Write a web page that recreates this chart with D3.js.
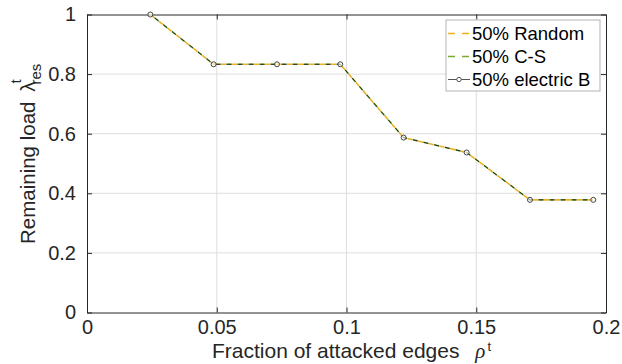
<!DOCTYPE html>
<html><head><meta charset="utf-8">
<script src="https://cdn.jsdelivr.net/npm/d3@7"></script>
<style>
html,body{margin:0;padding:0;background:#fff;}
svg{display:block;font-family:"Liberation Sans",Arial,Helvetica,sans-serif;}
</style></head>
<body>
<svg id="c" width="622" height="364"></svg>
<script>
// ---- data ----
const rho = [0.0244, 0.0488, 0.0732, 0.0976, 0.1220, 0.1463, 0.1707, 0.1951];
const randomLoad   = [1, 0.833, 0.833, 0.833, 0.587, 0.537, 0.378, 0.378];
const csLoad       = [1, 0.833, 0.833, 0.833, 0.587, 0.537, 0.378, 0.378];
const electricLoad = [1, 0.833, 0.833, 0.833, 0.587, 0.537, 0.378, 0.378];
const seriesNames = ["50% Random", "50% C-S", "50% electric B"];
const xTicks = [0, 0.05, 0.1, 0.15, 0.2];
const xTickLabels = ["0", "0.05", "0.1", "0.15", "0.2"];
const yTicks = [0, 0.2, 0.4, 0.6, 0.8, 1];
const yTickLabels = ["0", "0.2", "0.4", "0.6", "0.8", "1"];

const svg = d3.select("#c");
const L = 87, R = 606, T = 14.5, B = 312.5;
const x = d3.scaleLinear().domain([0, 0.2]).range([L, R]);
const y = d3.scaleLinear().domain([0, 1]).range([B, T]);

// grid
const g = svg.append("g");
g.selectAll(".gx").data(xTicks.slice(1, -1)).enter().append("line")
  .attr("x1", d => x(d)).attr("x2", d => x(d)).attr("y1", T).attr("y2", B)
  .attr("stroke", "#dedede").attr("stroke-width", 1);
g.selectAll(".gy").data(yTicks.slice(1, -1)).enter().append("line")
  .attr("y1", d => y(d)).attr("y2", d => y(d)).attr("x1", L).attr("x2", R)
  .attr("stroke", "#dedede").attr("stroke-width", 1);

// axes with inward ticks
const axColor = "#262626";
const fmtX = (d, i) => xTickLabels[i];
const fmtY = (d, i) => yTickLabels[i];
const axB = svg.append("g").attr("transform", `translate(0,${B})`)
  .call(d3.axisBottom(x).tickValues(xTicks).tickFormat(fmtX).tickSizeInner(-5).tickSizeOuter(0).tickPadding(7));
const axT = svg.append("g").attr("transform", `translate(0,${T})`)
  .call(d3.axisTop(x).tickValues(xTicks).tickFormat("").tickSizeInner(-5).tickSizeOuter(0));
const axL = svg.append("g").attr("transform", `translate(${L},0)`)
  .call(d3.axisLeft(y).tickValues(yTicks).tickFormat(fmtY).tickSizeInner(-5).tickSizeOuter(0).tickPadding(11));
const axR = svg.append("g").attr("transform", `translate(${R},0)`)
  .call(d3.axisRight(y).tickValues(yTicks).tickFormat("").tickSizeInner(-5).tickSizeOuter(0));
[axB, axT, axL, axR].forEach(a => {
  a.select(".domain").attr("stroke", axColor).attr("stroke-width", 1);
  a.selectAll(".tick line").attr("stroke", axColor);
  a.selectAll("text").attr("fill", "#262626").style("font-size", "20px")
    .style("font-family", "'Liberation Sans',Arial,sans-serif");
});
axB.selectAll(".tick text").attr("dy", "0.71em");

// lines
const line = d3.line().x((d, i) => x(rho[i])).y(d => y(d));
const pg = svg.append("g");
pg.append("path").datum(randomLoad).attr("d", line).attr("fill", "none")
  .attr("stroke", "#EDB120").attr("stroke-width", 1.6).attr("stroke-dasharray", "5,6");
pg.append("path").datum(csLoad).attr("d", line).attr("fill", "none")
  .attr("stroke", "#77AC30").attr("stroke-width", 1.6).attr("stroke-dasharray", "5,6").attr("stroke-dashoffset", 5.5);
pg.append("path").datum(electricLoad).attr("d", line).attr("fill", "none")
  .attr("stroke", "#1a1a1a").attr("stroke-width", 0.9).attr("stroke-dasharray", "5,6").attr("stroke-dashoffset", 5.5);
pg.selectAll(".mk").data(electricLoad).enter().append("circle")
  .attr("cx", (d, i) => x(rho[i])).attr("cy", d => y(d)).attr("r", 2.5)
  .attr("fill", "#ffffff").attr("fill-opacity", 0.6).attr("stroke", "#444").attr("stroke-width", 1);

// legend
const lg = svg.append("g");
lg.append("rect").attr("x", 446).attr("y", 20).attr("width", 154).attr("height", 71)
  .attr("fill", "#fff").attr("stroke", "#b3b3b3").attr("stroke-width", 1);
const ly = [33.5, 56.5, 79.5];
const lcol = ["#EDB120", "#77AC30", "#555"];
seriesNames.forEach((nm, i) => {
  if (i < 2) {
    lg.append("line").attr("x1", 448).attr("x2", 470).attr("y1", ly[i]).attr("y2", ly[i])
      .attr("stroke", lcol[i]).attr("stroke-width", 1.6).attr("stroke-dasharray", "7,7");
  } else {
    lg.append("line").attr("x1", 448).attr("x2", 470).attr("y1", ly[i]).attr("y2", ly[i])
      .attr("stroke", lcol[i]).attr("stroke-width", 1);
    lg.append("circle").attr("cx", 459).attr("cy", ly[i]).attr("r", 2.2)
      .attr("fill", "#fff").attr("stroke", "#555").attr("stroke-width", 1);
  }
  lg.append("text").attr("x", 472).attr("y", ly[i]).attr("dy", "0.36em")
    .style("font-size", "18.5px").attr("fill", "#000").text(nm);
});

// x label
const xl = svg.append("text").attr("x", 212).attr("y", 358).attr("fill", "#262626").style("font-size", "21px");
xl.append("tspan").text("Fraction of attacked edges ");
xl.append("tspan").attr("dx", 10).style("font-family", "'Liberation Serif',serif").style("font-style", "italic").text("ρ");
xl.append("tspan").attr("dy", -7).attr("dx", 2).style("font-size", "13px").text("t");

// y label
const yg = svg.append("g").attr("transform", "translate(35,244) rotate(-90)");
const yl = yg.append("text").attr("x", 0).attr("y", 0).attr("fill", "#262626").style("font-size", "20.5px");
yl.append("tspan").text("Remaining load ");
yl.append("tspan").attr("dx", 4).text("λ");
const yw = yl.node().getComputedTextLength();
yg.append("text").attr("x", yw + 2).attr("y", -14).attr("fill", "#262626").style("font-size", "15px").text("t");
yg.append("text").attr("x", yw + 1).attr("y", 6).attr("fill", "#262626").style("font-size", "15px").text("res");
</script>
</body></html>
